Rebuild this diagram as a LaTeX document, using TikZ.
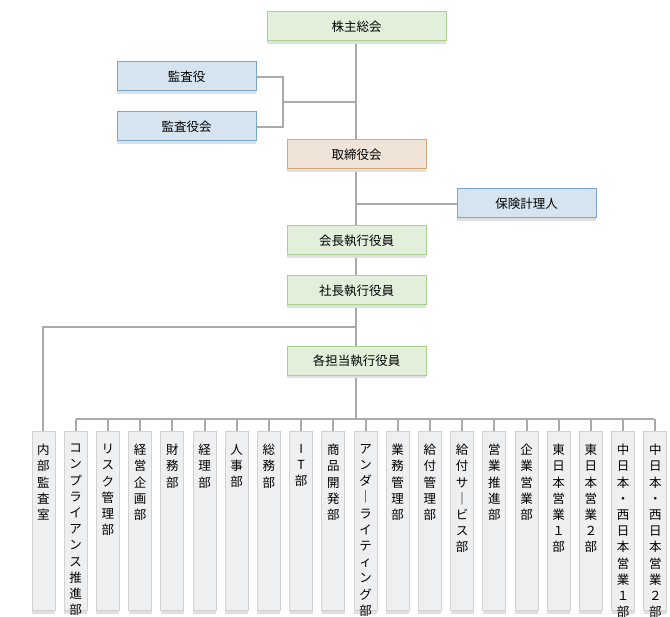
\documentclass[tikz,border=0pt]{standalone}
\usepackage{fontspec}
\setmainfont{Noto Sans CJK JP}
\begin{document}
\begin{tikzpicture}[x=1pt,y=-1pt,
  base/.style={draw,line width=1pt,minimum height=29pt,inner sep=0pt,font=\fontsize{12.5}{14}\selectfont,
     preaction={fill=black!12,transform canvas={yshift=-3pt}}},
  grn/.style={base,fill=green!8!white!90!olive,draw=green!50!black!40,fill={rgb,255:red,226;green,239;blue,218},draw={rgb,255:red,169;green,209;blue,142},minimum width=179pt},
  blu/.style={base,fill={rgb,255:red,214;green,228;blue,239},draw={rgb,255:red,123;green,167;blue,207},minimum width=139pt},
  tan/.style={base,fill={rgb,255:red,240;green,228;blue,216},draw={rgb,255:red,212;green,167;blue,122},minimum width=139pt},
  dep/.style={draw={rgb,255:red,208;green,210;blue,212},fill={rgb,255:red,238;green,239;blue,241},line width=1pt,
     minimum width=23pt,minimum height=179pt,anchor=north,inner sep=0pt,
     preaction={fill=black!12,transform canvas={yshift=-3pt}}},
  vt/.style={anchor=north,align=center,font=\fontsize{12.5}{16.2}\selectfont,inner sep=0pt},
  ln/.style={draw={rgb,255:red,170;green,170;blue,170},line width=2pt}]
\useasboundingbox (0,0) rectangle (670,617);
\fill[white] (0,0) rectangle (670,617);
% lines
\coordinate (j1) at (283,102);
\coordinate (j2) at (356,102);
\coordinate (j3) at (356,204);
\coordinate (j4) at (356,327);
\coordinate (j5) at (43,327);
\coordinate (bl) at (76,419);
\coordinate (br) at (654,419);
\coordinate (bm) at (356,419);
\draw[ln] (356,26) -- (356,400);
\draw[ln] (356,400) -- (bm);
\draw[ln] (256,77) -| (j1) |- (256,127);
\draw[ln] (j1) -- (j2);
\draw[ln] (j3) -- (457,204);
\draw[ln] (j4) -- (j5) -- (43,431);
\draw[ln] (bl) -- (br);
\foreach \i in {1,...,19} \draw[ln] (43.5+32.2*\i,419) -- (43.5+32.2*\i,431);
% top nodes
\node[grn] (a) at (356.5,26.5) {株主総会};
\node[blu] (b) at (186.5,76.5) {監査役};
\node[blu] (c) at (186.5,126.5) {監査役会};
\node[tan] (d) at (356.5,154.5) {取締役会};
\node[blu] (e) at (526.5,203.5) {保険計理人};
\node[grn,minimum width=139pt] (f) at (356.5,240.5) {会長執行役員};
\node[grn,minimum width=139pt] (g) at (356.5,290.5) {社長執行役員};
\node[grn,minimum width=139pt] (h) at (356.5,361) {各担当執行役員};
% departments
\foreach \t [count=\i from 0] in {
 内\\部\\監\\査\\室,
 コ\\ン\\プ\\ラ\\イ\\ア\\ン\\ス\\推\\進\\部,
 リ\\ス\\ク\\管\\理\\部,
 経\\営\\企\\画\\部,
 財\\務\\部,
 経\\理\\部,
 人\\事\\部,
 総\\務\\部,
 I\\T\\部,
 商\\品\\開\\発\\部,
 ア\\ン\\ダ\\｜\\ラ\\イ\\テ\\ィ\\ン\\グ\\部,
 業\\務\\管\\理\\部,
 給\\付\\管\\理\\部,
 給\\付\\サ\\｜\\ビ\\ス\\部,
 営\\業\\推\\進\\部,
 企\\業\\営\\業\\部,
 東\\日\\本\\営\\業\\１\\部,
 東\\日\\本\\営\\業\\２\\部,
 中\\日\\本\\・\\西\\日\\本\\営\\業\\１\\部,
 中\\日\\本\\・\\西\\日\\本\\営\\業\\２\\部}
 {\node[dep] (p\i) at (43.5+32.2*\i,431) {};
  \node[vt] (q\i) at (43.5+32.2*\i,444) {\t};}
\end{tikzpicture}
\end{document}
